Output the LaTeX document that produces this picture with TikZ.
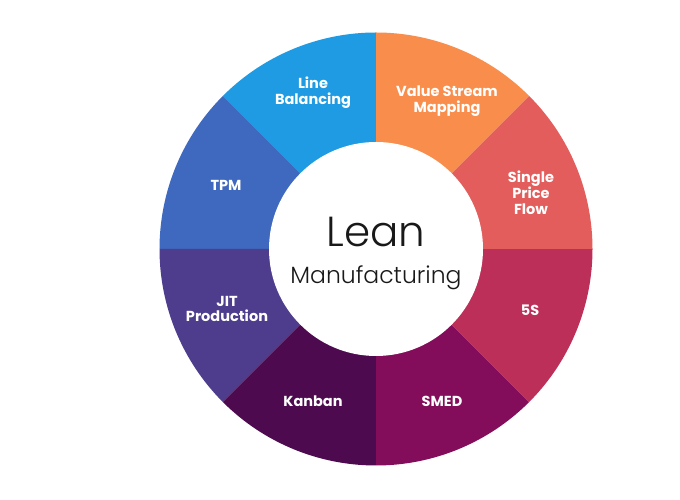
\documentclass[tikz,border=0pt]{standalone}
\usepackage{fontspec}
\setmainfont{Poppins}
\newfontfamily\lightfont{Poppins}[UprightFont=* Light]
\definecolor{cLB}{HTML}{1E9BE3}
\definecolor{cTPM}{HTML}{3F69BE}
\definecolor{cJIT}{HTML}{4E3D8D}
\definecolor{cKan}{HTML}{4D0A4F}
\definecolor{cSMED}{HTML}{830D5A}
\definecolor{cFS}{HTML}{BC2F59}
\definecolor{cSPF}{HTML}{E25D5B}
\definecolor{cVSM}{HTML}{F98D4B}
\tikzset{
  seglabel/.style={text=white, font=\fontsize{14.5}{15.8}\selectfont\bfseries, align=center, inner sep=0pt},
}
\begin{document}
\begin{tikzpicture}[x=1pt,y=1pt]
\useasboundingbox (0,0) rectangle (680,500);
\fill[white] (0,0) rectangle (680,500);
\begin{scope}[shift={(376,251)}]
\foreach \a/\c in {90/cLB,135/cTPM,180/cJIT,225/cKan,270/cSMED,315/cFS,0/cSPF,45/cVSM}{
  \fill[\c] (0,0) -- (\a:216.5) arc[start angle=\a, end angle=\a+45, radius=216.5] -- cycle;
}
\end{scope}
\node[circle, fill=white, minimum size=214pt, inner sep=0pt] (hub) at (376,251) {};
\node[font=\lightfont\fontsize{42}{44}\selectfont, text=black!90] (lean) at (376,268) {Lean};
\node[font=\lightfont\fontsize{23.5}{26}\selectfont, text=black!90] (manu) at (376,222) {Manufacturing};
\node[seglabel] (lb) at (313,407) {Line\\Balancing};
\node[seglabel] (vsm) at (447,399) {Value Stream\\Mapping};
\node[seglabel] (spf) at (531,307) {Single\\Price\\Flow};
\node[seglabel] (tpm) at (226,315) {TPM};
\node[seglabel] (jit) at (227,191) {JIT\\Production};
\node[seglabel] (kan) at (313,99) {Kanban};
\node[seglabel] (smed) at (442,99) {SMED};
\node[seglabel] (fs) at (530,190) {5S};
\end{tikzpicture}
\end{document}
